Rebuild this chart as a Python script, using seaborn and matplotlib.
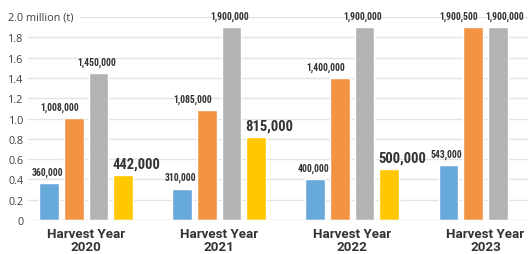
import seaborn as sns
import pandas as pd
import numpy as np
import matplotlib.pyplot as plt
from matplotlib import font_manager

# harvest volumes in million tonnes
years = ['Harvest Year\n2020', 'Harvest Year\n2021', 'Harvest Year\n2022', 'Harvest Year\n2023']
blue = [0.360, 0.310, 0.400, 0.543]
orange = [1.008, 1.085, 1.400, 1.9005]
gray = [1.450, 1.900, 1.900, 1.900]
yellow = [0.442, 0.815, 0.500, np.nan]
series = ['s1', 's2', 's3', 's4']
colors = ['#68a9db', '#f29441', '#b3b3b3', '#ffc800']
yticks = [0, 0.2, 0.4, 0.6, 0.8, 1.0, 1.2, 1.4, 1.6, 1.8]

df = pd.DataFrame({
    'year': years * 4,
    'series': [s for s in series for _ in years],
    'value': blue + orange + gray + yellow,
})

sns.set_style('white')
plt.rcParams['font.family'] = ['Open Sans', 'DejaVu Sans']

# pick a narrow font if one is around
names = sorted({f.name for f in font_manager.fontManager.ttflist})
narrow_name = None
for cand in ['Liberation Sans Narrow', 'DejaVu Sans Condensed', 'Roboto Condensed',
             'Open Sans Condensed', 'Noto Sans Condensed']:
    if cand in names:
        narrow_name = cand
        break
if narrow_name is None:
    for n in names:
        if 'Narrow' in n or 'Condensed' in n:
            narrow_name = n
            break
stretch = 'normal'
if narrow_name is None:
    cond = [f for f in font_manager.fontManager.ttflist
            if f.stretch in ('condensed', 'semi-condensed', 300)]
    narrow_name = cond[0].name if cond else 'Roboto'
    stretch = 'condensed'
narrow = [narrow_name, 'DejaVu Sans']

fig = plt.figure(figsize=(5.28, 2.55), dpi=100)
ax = fig.add_axes([28 / 528, 34 / 255, 1 - 28 / 528, 203 / 255])

sns.barplot(data=df, x='year', y='value', hue='series', palette=colors,
            width=0.74, gap=0.2, saturation=1, legend=False, ax=ax, zorder=3)

ax.set_xlim(-0.436, 3.32)
ax.set_ylim(0, 2.0)

# gridlines
for t in yticks[1:]:
    ax.axhline(t, color='#e3e3e3', lw=1, zorder=0)
ax.axhline(2.0, xmin=0.104, color='#e3e3e3', lw=1, zorder=0)
ax.axhline(0, color='#d0d0d0', lw=1, zorder=4)

for s in ax.spines.values():
    s.set_visible(False)

ax.set_yticks(yticks)
ax.set_yticklabels(['0' if t == 0 else f'{t:.1f}' for t in yticks],
                   fontsize=7.8, color='#404040')
ax.tick_params(axis='y', length=0, pad=3)
ax.tick_params(axis='x', length=0, pad=5)
for lbl in ax.get_xticklabels():
    lbl.set_fontfamily(['Roboto', 'DejaVu Sans'])
    lbl.set_fontweight('bold')
    lbl.set_fontsize(9.6)
    lbl.set_color('#333333')
    lbl.set_linespacing(1.0)
ax.set_xlabel('')
ax.set_ylabel('')
ax.text(-0.04, 2.0, '2.0 million (t)', fontsize=7.8, color='#404040',
        va='center', ha='left', transform=ax.get_yaxis_transform(), clip_on=False)

# value labels, placed from each bar's geometry
px = 1 / 133  # one pixel in category units
for i, cont in enumerate(ax.containers):
    n = len(cont.patches)
    for j, (bar, v) in enumerate(zip(cont.patches, cont.datavalues)):
        if np.isnan(v):
            continue
        txt = f'{v * 1e6:,.0f}'
        x0, w, h = bar.get_x(), bar.get_width(), bar.get_height()
        kw = dict(fontfamily=narrow, fontstretch=stretch, fontweight='bold',
                  color='#333333', va='bottom', clip_on=False, zorder=5)
        if i == 3:
            ax.text(x0 - px, h + 0.045, txt, ha='left', fontsize=10.5, **kw)
            continue
        if i == 1:
            x, ha = x0 + w - 5 * px, 'right'
        elif i == 2 and j == n - 1:
            x, ha = x0 + w / 2 + 7 * px, 'center'
        else:
            x, ha = x0 + w / 2 - 2 * px, 'center'
        ax.text(x, h + 0.06, txt, ha=ha, fontsize=6.9, **kw)

fig.savefig('out.png', dpi=100)
